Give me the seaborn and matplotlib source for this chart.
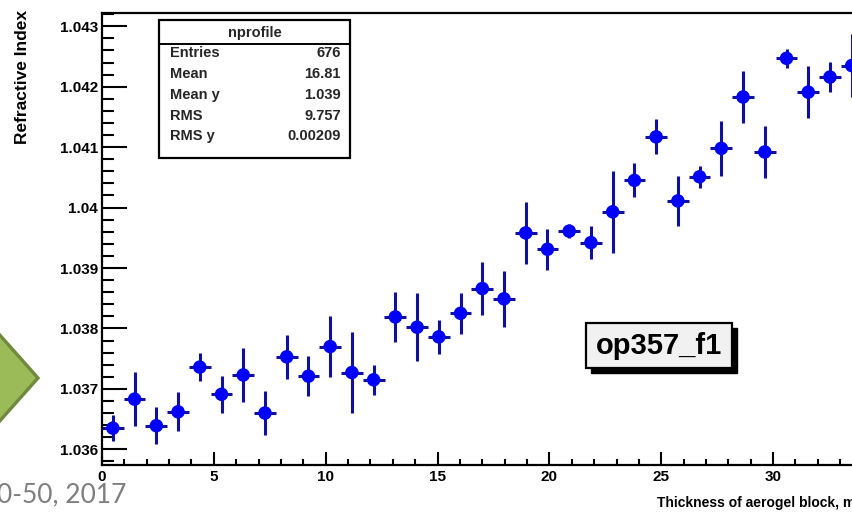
import matplotlib
matplotlib.use("Agg")
import matplotlib.pyplot as plt
from matplotlib.patches import Rectangle, Polygon
from matplotlib.lines import Line2D
from matplotlib.ticker import FixedLocator, FixedFormatter, MultipleLocator
import pandas as pd
import seaborn as sns

# Profile of refractive index vs. aerogel block thickness (bin centres, mm)
thickness_mm = [0.486, 1.457, 2.429, 3.400, 4.371, 5.343, 6.314, 7.286, 8.257, 9.229,
                10.200, 11.171, 12.143, 13.114, 14.086, 15.057, 16.029, 17.000, 17.971, 18.943,
                19.914, 20.886, 21.857, 22.829, 23.800, 24.771, 25.743, 26.714, 27.686, 28.657,
                29.629, 30.600, 31.571, 32.543, 33.514]
refractive_index = [1.03635, 1.03683, 1.03639, 1.03662, 1.03736, 1.03691, 1.03723, 1.03660, 1.03753, 1.03721,
                    1.03770, 1.03727, 1.03715, 1.03819, 1.03802, 1.03786, 1.03825, 1.03866, 1.03849, 1.03958,
                    1.03931, 1.03961, 1.03942, 1.03993, 1.04045, 1.04117, 1.04011, 1.04051, 1.04098, 1.04183,
                    1.04092, 1.04247, 1.04191, 1.04216, 1.04235]
index_error = [0.00021, 0.00045, 0.00031, 0.00032, 0.00023, 0.00031, 0.00045, 0.00036, 0.00036, 0.00033,
               0.00050, 0.00067, 0.00025, 0.00041, 0.00056, 0.00028, 0.00034, 0.00044, 0.00046, 0.00051,
               0.00034, 0.00012, 0.00027, 0.00068, 0.00028, 0.00029, 0.00041, 0.00018, 0.00046, 0.00043,
               0.00043, 0.00016, 0.00043, 0.00025, 0.00052]
bin_half_width = 0.486

x_ticks = [0, 5, 10, 15, 20, 25, 30]
x_tick_labels = ["0", "5", "10", "15", "20", "25", "30"]
y_ticks = [1.036, 1.037, 1.038, 1.039, 1.040, 1.041, 1.042, 1.043]
y_tick_labels = ["1.036", "1.037", "1.038", "1.039", "1.04", "1.041", "1.042", "1.043"]

stats_title = "nprofile"
stats_names = ["Entries", "Mean", "Mean y", "RMS", "RMS y"]
stats_values = ["676", "16.81", "1.039", "9.757", "0.00209"]

df = pd.DataFrame({"thickness": thickness_mm, "n": refractive_index, "err": index_error})

sns.set_theme(style="ticks")
plt.rcParams["font.family"] = ["Liberation Sans", "DejaVu Sans"]

W, H = 853, 512
fig = plt.figure(figsize=(W / 100, H / 100), dpi=100)


def fx(px):
    return px / W


def fy(py):
    return 1 - py / H


# Frame: left edge at 102 px, bottom 465 px, top 13 px; x range 0..34 runs past the right border
ax_left, ax_bottom, ax_top = 102, 465, 13
ax_right = 102 + 34 * 22.37
ax = fig.add_axes([fx(ax_left), fy(ax_bottom), fx(ax_right - ax_left), (ax_bottom - ax_top) / H])

ax.errorbar(df["thickness"], df["n"], xerr=bin_half_width, yerr=df["err"], fmt="none",
            ecolor="#10109c", elinewidth=2.2, capsize=0, zorder=2)
sns.scatterplot(data=df, x="thickness", y="n", ax=ax, s=95, color="#0000ff",
                edgecolor="none", linewidth=0, zorder=3, legend=False)

ax.set_xlim(0, 34)
ax.set_ylim(1.03574, 1.04322)
ax.set_xlabel("")
ax.set_ylabel("")

ax.xaxis.set_major_locator(FixedLocator(x_ticks))
ax.xaxis.set_major_formatter(FixedFormatter(x_tick_labels))
ax.xaxis.set_minor_locator(MultipleLocator(1))
ax.yaxis.set_major_locator(FixedLocator(y_ticks))
ax.yaxis.set_major_formatter(FixedFormatter(y_tick_labels))
ax.yaxis.set_minor_locator(MultipleLocator(0.0002))

ax.tick_params(axis="both", which="both", direction="in", color="black", width=1.5)
ax.tick_params(axis="x", which="major", length=9.5, pad=3.5, labelsize=11)
ax.tick_params(axis="x", which="minor", length=4.5)
ax.tick_params(axis="y", which="major", length=18, pad=3, labelsize=11)
ax.tick_params(axis="y", which="minor", length=8.5)
for lab in ax.get_xticklabels() + ax.get_yticklabels():
    lab.set_fontweight("bold")
    lab.set_color("black")
for side in ["left", "bottom", "top"]:
    ax.spines[side].set_color("black")
    ax.spines[side].set_linewidth(1.6)
ax.spines["right"].set_visible(False)

# Axis titles
fig.text(fx(23), fy(10), "Refractive Index", rotation=90, ha="center", va="top",
         fontsize=12.5, fontweight="bold", color="black")
fig.text(fx(657), fy(503), "Thickness of aerogel block, mm", ha="left", va="center",
         fontsize=10, fontweight="bold", color="black")

# Statistics box
bx0, by0, bx1, by1 = 159, 20, 350, 158
fig.add_artist(Rectangle((fx(bx0), fy(by1)), fx(bx1 - bx0), (by1 - by0) / H,
                         transform=fig.transFigure, facecolor="white", edgecolor="black",
                         linewidth=1.6, zorder=5))
fig.add_artist(Line2D([fx(bx0), fx(bx1)], [fy(44), fy(44)], transform=fig.transFigure,
                      color="black", linewidth=1.4, zorder=6))
fig.text(fx((bx0 + bx1) / 2), fy(33), stats_title, ha="center", va="center",
         fontsize=10.5, fontweight="bold", zorder=7)
row_y = [53, 74, 95, 116, 136]
for yy, name, val in zip(row_y, stats_names, stats_values):
    fig.text(fx(170), fy(yy), name, ha="left", va="center", fontsize=10.5,
             fontweight="bold", zorder=7)
    fig.text(fx(341), fy(yy), val, ha="right", va="center", fontsize=10.5,
             fontweight="bold", zorder=7)

# Sample label with drop shadow
lx0, ly0, lx1, ly1 = 586, 323, 732, 368
fig.add_artist(Rectangle((fx(lx0 + 5), fy(ly1 + 5)), fx(lx1 - lx0), (ly1 - ly0) / H,
                         transform=fig.transFigure, facecolor="black", edgecolor="black",
                         linewidth=1.0, zorder=5))
fig.add_artist(Rectangle((fx(lx0), fy(ly1)), fx(lx1 - lx0), (ly1 - ly0) / H,
                         transform=fig.transFigure, facecolor="#f1f1f1", edgecolor="black",
                         linewidth=1.6, zorder=6))
fig.text(fx((lx0 + lx1) / 2), fy(346), "op357_f1", ha="center", va="center",
         fontsize=21, fontweight="bold", color="black", zorder=7)

# Green chevron on the left margin
arrow_pts = [(fx(-60), fy(324)), (fx(-10), fy(324)), (fx(38), fy(378)),
             (fx(-10), fy(432)), (fx(-60), fy(432))]
fig.add_artist(Polygon(arrow_pts, closed=True, transform=fig.transFigure,
                       facecolor="#9bbb59", edgecolor="#71893f", linewidth=2.4, zorder=4))

# Citation fragment at the bottom left
fig.text(fx(126), fy(502), "0-50, 2017", ha="right", va="baseline",
         fontsize=19, color="#7f7f7f", family=["Lato", "DejaVu Sans"], zorder=4)

fig.savefig("out.png", dpi=100)
